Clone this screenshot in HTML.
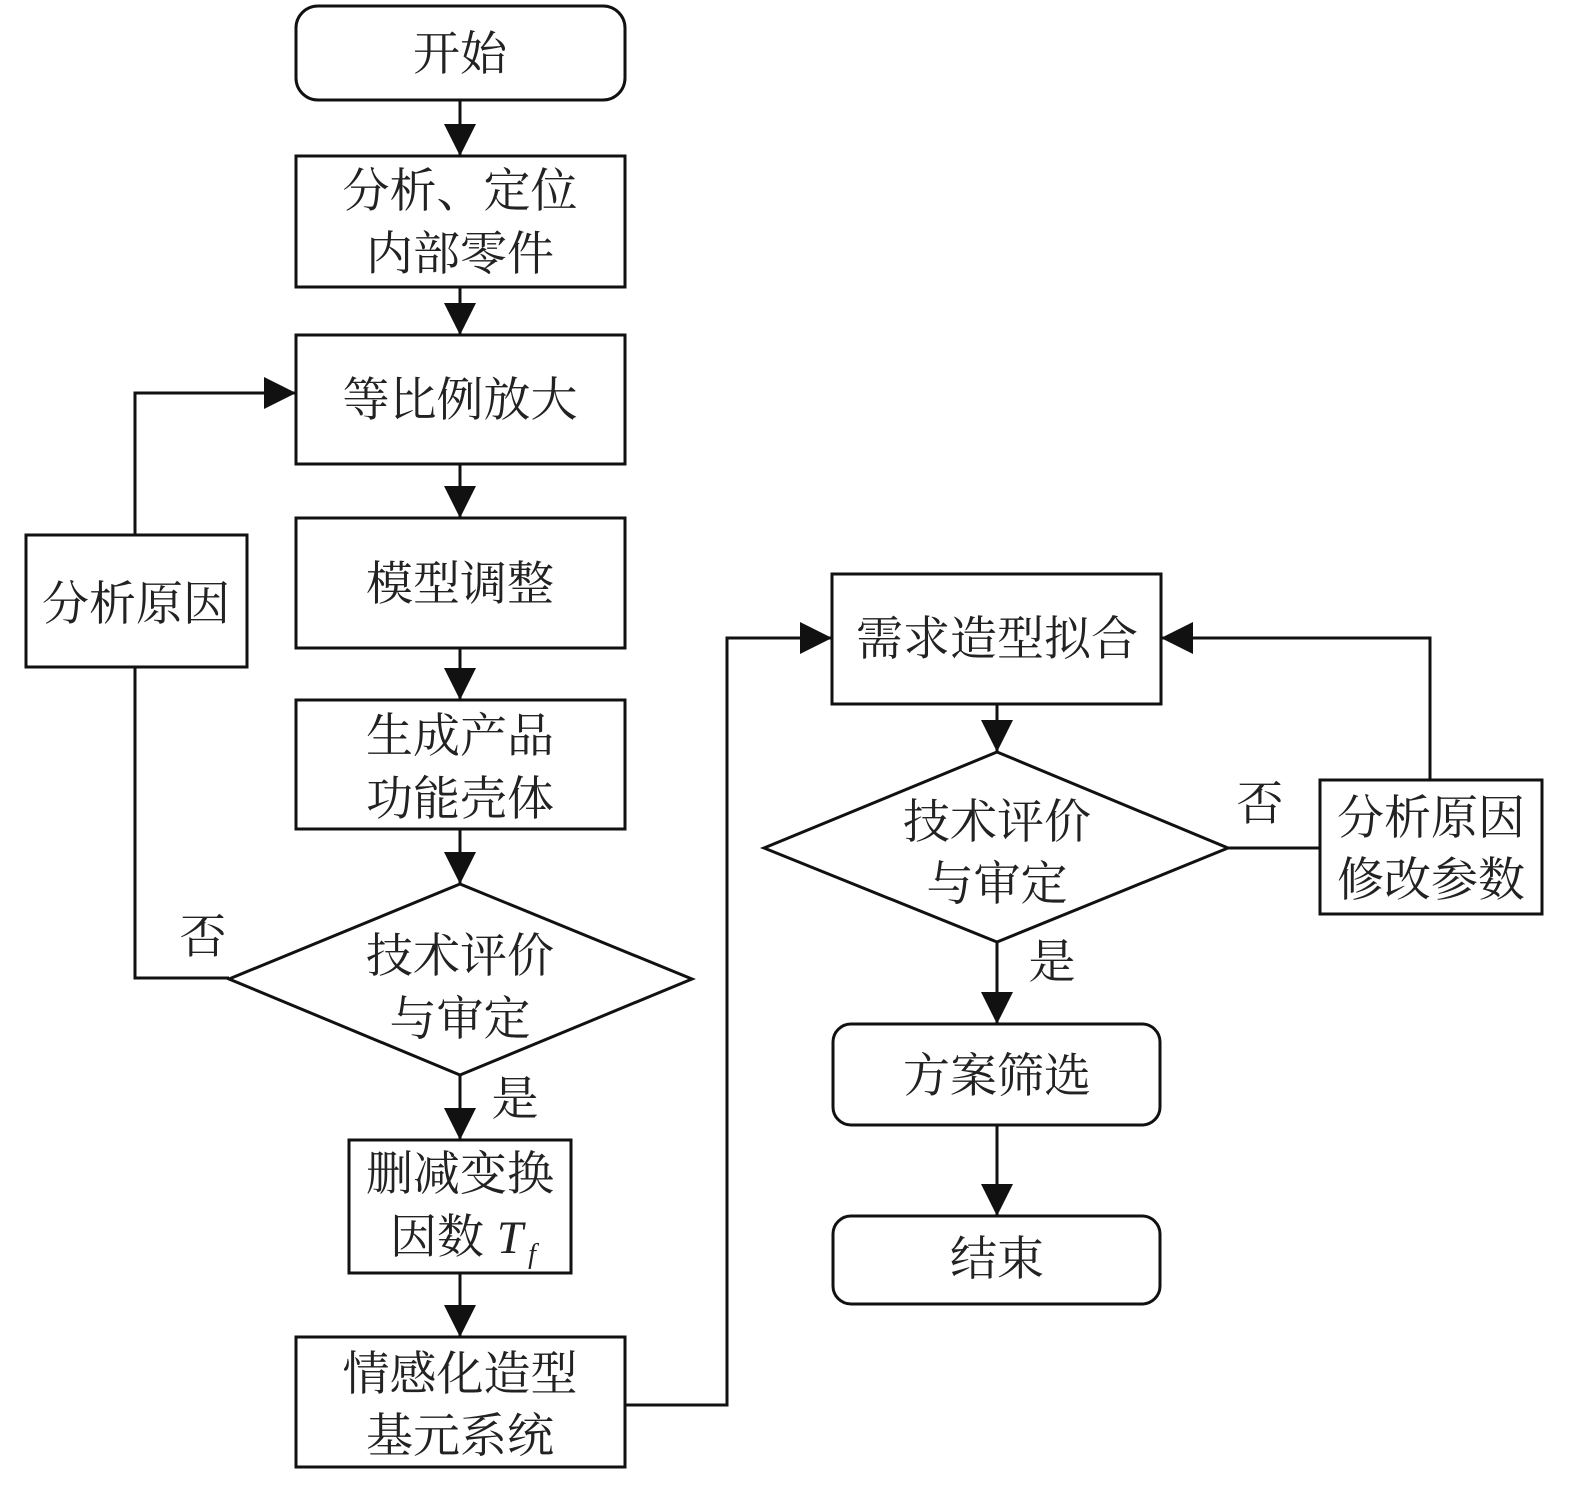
<!DOCTYPE html>
<html><head><meta charset="utf-8"><style>
html,body{margin:0;padding:0;background:#fff;}
svg text{font-family:"Liberation Serif","Noto Serif CJK SC",serif;font-size:47px;fill:#222;text-anchor:middle;}
</style></head><body>
<svg width="1575" height="1480" viewBox="0 0 1575 1480" xmlns="http://www.w3.org/2000/svg">
<defs><marker id="a" markerWidth="10" markerHeight="10" refX="10" refY="5" orient="auto" markerUnits="userSpaceOnUse" viewBox="0 0 10 10"><path d="M0,0 L10,5 L0,10 z" fill="#111"/></marker>
<marker id="b" markerWidth="32" markerHeight="32" refX="32" refY="16" orient="auto" markerUnits="userSpaceOnUse" viewBox="0 0 32 32"><path d="M0,0 L32,16 L0,32 z" fill="#111"/></marker></defs>
<g fill="none" stroke="#111" stroke-width="3">
<rect x="296" y="6" width="329" height="94" rx="22"/>
<rect x="296" y="156" width="329" height="131"/>
<rect x="296" y="335" width="329" height="129"/>
<rect x="296" y="518" width="329" height="130"/>
<rect x="296" y="700" width="329" height="129"/>
<polygon points="229,979 460,884 692,979 460,1075"/>
<rect x="349" y="1140" width="222" height="133"/>
<rect x="296" y="1337" width="329" height="130"/>
<rect x="26" y="535" width="221" height="132"/>
<rect x="832" y="574" width="329" height="130"/>
<polygon points="764,848 997,752 1228,848 997,942"/>
<rect x="1320" y="780" width="222" height="134"/>
<rect x="833" y="1024" width="327" height="101" rx="18"/>
<rect x="833" y="1216" width="327" height="88" rx="18"/>
<g marker-end="url(#b)">
<path d="M460,100 V156"/><path d="M460,287 V335"/><path d="M460,464 V518"/><path d="M460,648 V700"/><path d="M460,829 V884"/>
<path d="M460,1075 V1140"/><path d="M460,1273 V1337"/>
<path d="M135,535 V393 H296"/>
<path d="M625,1405 H727 V638 H832"/>
<path d="M1430,780 V638 H1161"/>
<path d="M997,704 V752"/><path d="M997,942 V1024"/><path d="M997,1125 V1216"/>
</g>
<path d="M135,667 V978 H229"/><path d="M1228,848 H1320"/>
</g>
<text x="460" y="70">开始</text>
<text x="460" y="207">分析、定位</text><text x="460" y="270">内部零件</text>
<text x="460" y="416">等比例放大</text>
<text x="460" y="600">模型调整</text>
<text x="460" y="752">生成产品</text><text x="460" y="815">功能壳体</text>
<text x="460" y="972">技术评价</text><text x="460" y="1035">与审定</text>
<text x="203" y="953">否</text><text x="515" y="1115">是</text>
<text x="460" y="1190">删减变换</text>
<text x="437" y="1253">因数</text><text x="510" y="1253" font-style="italic" style="font-family:'Liberation Serif',serif">T</text><text x="532" y="1263" font-style="italic" font-size="28" style="font-family:'Liberation Serif',serif;font-size:28px">f</text>
<text x="460" y="1390">情感化造型</text><text x="460" y="1452">基元系统</text>
<text x="136" y="620">分析原因</text>
<text x="997" y="655">需求造型拟合</text>
<text x="997" y="838">技术评价</text><text x="997" y="900">与审定</text>
<text x="1260" y="820">否</text><text x="1052" y="978">是</text>
<text x="1431" y="834">分析原因</text><text x="1431" y="896">修改参数</text>
<text x="997" y="1092">方案筛选</text>
<text x="997" y="1275">结束</text>
</svg>
</body></html>
